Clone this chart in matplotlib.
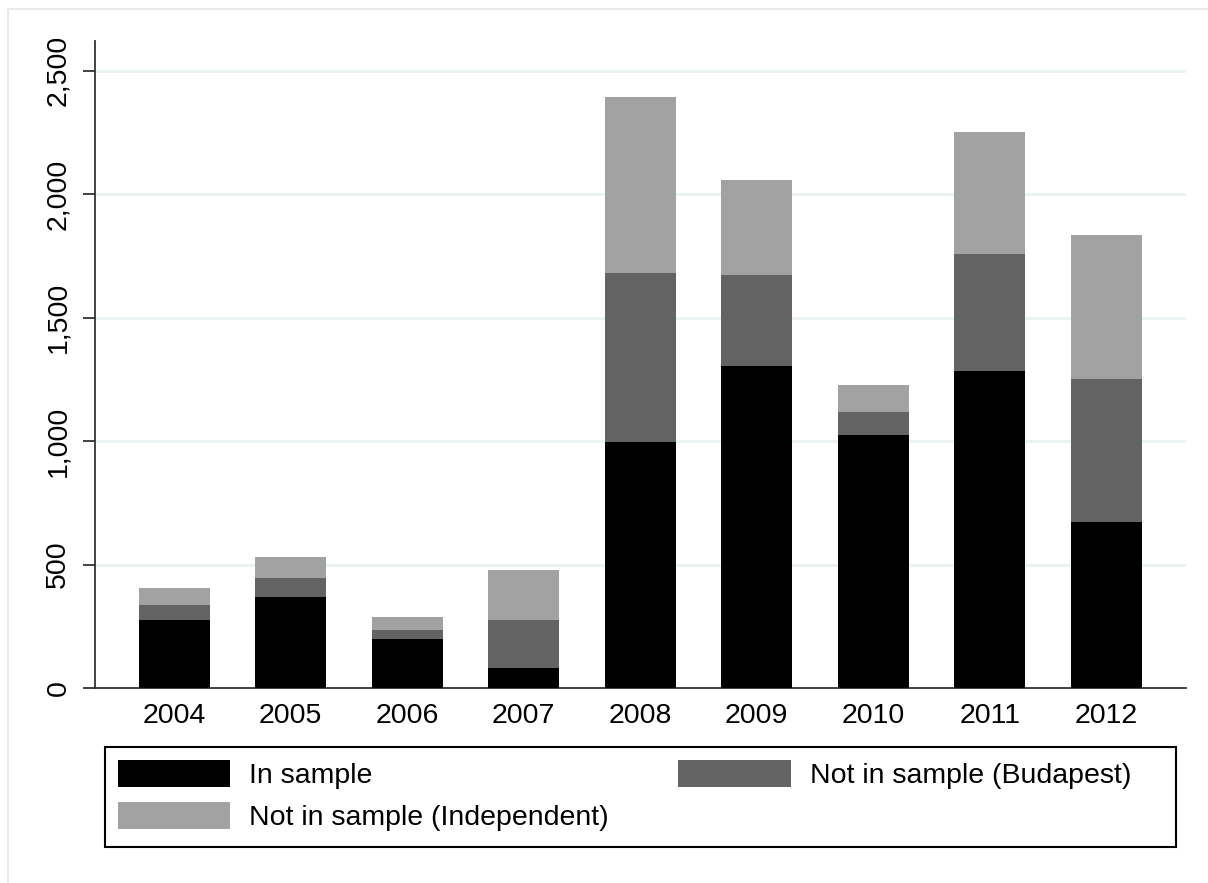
import matplotlib
matplotlib.use("Agg")
import matplotlib.pyplot as plt
from matplotlib.patches import Rectangle
from matplotlib.ticker import FuncFormatter
import numpy as np

# data
years = ['2004', '2005', '2006', '2007', '2008', '2009', '2010', '2011', '2012']
in_sample = [274, 367, 197, 80, 995, 1306, 1025, 1284, 672]
budapest = [62, 79, 39, 194, 687, 369, 94, 476, 580]
independent = [70, 86, 53, 203, 711, 382, 109, 493, 585]
labels = ['In sample', 'Not in sample (Budapest)', 'Not in sample (Independent)']
colors = ['#000000', '#636363', '#a2a2a2']

plt.rcParams['font.family'] = ['Liberation Sans', 'DejaVu Sans']
fs = 20.5

fig = plt.figure(figsize=(12.08, 8.83), dpi=100)
fig.patch.set_facecolor('white')
# faint outer frame of the graph region
fig.patches.append(Rectangle((8 / 1208, -0.05), 1.2, 1 - 9 / 883 + 0.05,
                             transform=fig.transFigure, fill=False,
                             edgecolor='#e6e6e6', lw=1.2))

ax = fig.add_axes([95 / 1208, 1 - 688 / 883, (1186 - 95) / 1208, (688 - 41) / 883])

x = np.arange(len(years))
w = 0.61
b1 = ax.bar(x, in_sample, w, color=colors[0], zorder=3)
bot = np.array(in_sample)
b2 = ax.bar(x, budapest, w, bottom=bot, color=colors[1], zorder=3)
bot = bot + np.array(budapest)
b3 = ax.bar(x, independent, w, bottom=bot, color=colors[2], zorder=3)

ax.set_xlim(-0.68, 8.685)
ax.set_ylim(0, 2621)
ax.set_xticks(x)
ax.set_xticklabels(years, fontsize=fs)
ax.set_yticks([0, 500, 1000, 1500, 2000, 2500])
ax.yaxis.set_major_formatter(FuncFormatter(lambda v, p: f'{int(v):,}'))
for lab in ax.get_yticklabels():
    lab.set_rotation(90)
    lab.set_va('center')
ax.tick_params(axis='y', labelsize=fs, length=9, width=1.3, color='#333333', pad=8)
ax.tick_params(axis='x', length=0, pad=11)

for v in [500, 1000, 1500, 2000, 2500]:
    ax.axhline(v, color='#eaf2f3', lw=2, zorder=1)

for s in ['top', 'right']:
    ax.spines[s].set_visible(False)
for s in ['left', 'bottom']:
    ax.spines[s].set_linewidth(1.3)
    ax.spines[s].set_color('#333333')

# legend entries without frame, box drawn separately
leg = fig.legend([b1, b3, b2], [labels[0], labels[2], labels[1]], ncol=2,
                 loc='upper left', bbox_to_anchor=(105 / 1208, 1 - 747 / 883),
                 fontsize=fs, frameon=False,
                 handlelength=3.95, handleheight=1.1, handletextpad=0.66,
                 columnspacing=2.45, borderpad=0.45, labelspacing=0.45,
                 borderaxespad=0)
fig.patches.append(Rectangle((105 / 1208, 1 - 847 / 883), (1176 - 105) / 1208,
                             100 / 883, transform=fig.transFigure, fill=False,
                             edgecolor='black', lw=1.5))

fig.savefig('out.png', dpi=100, facecolor='white')
